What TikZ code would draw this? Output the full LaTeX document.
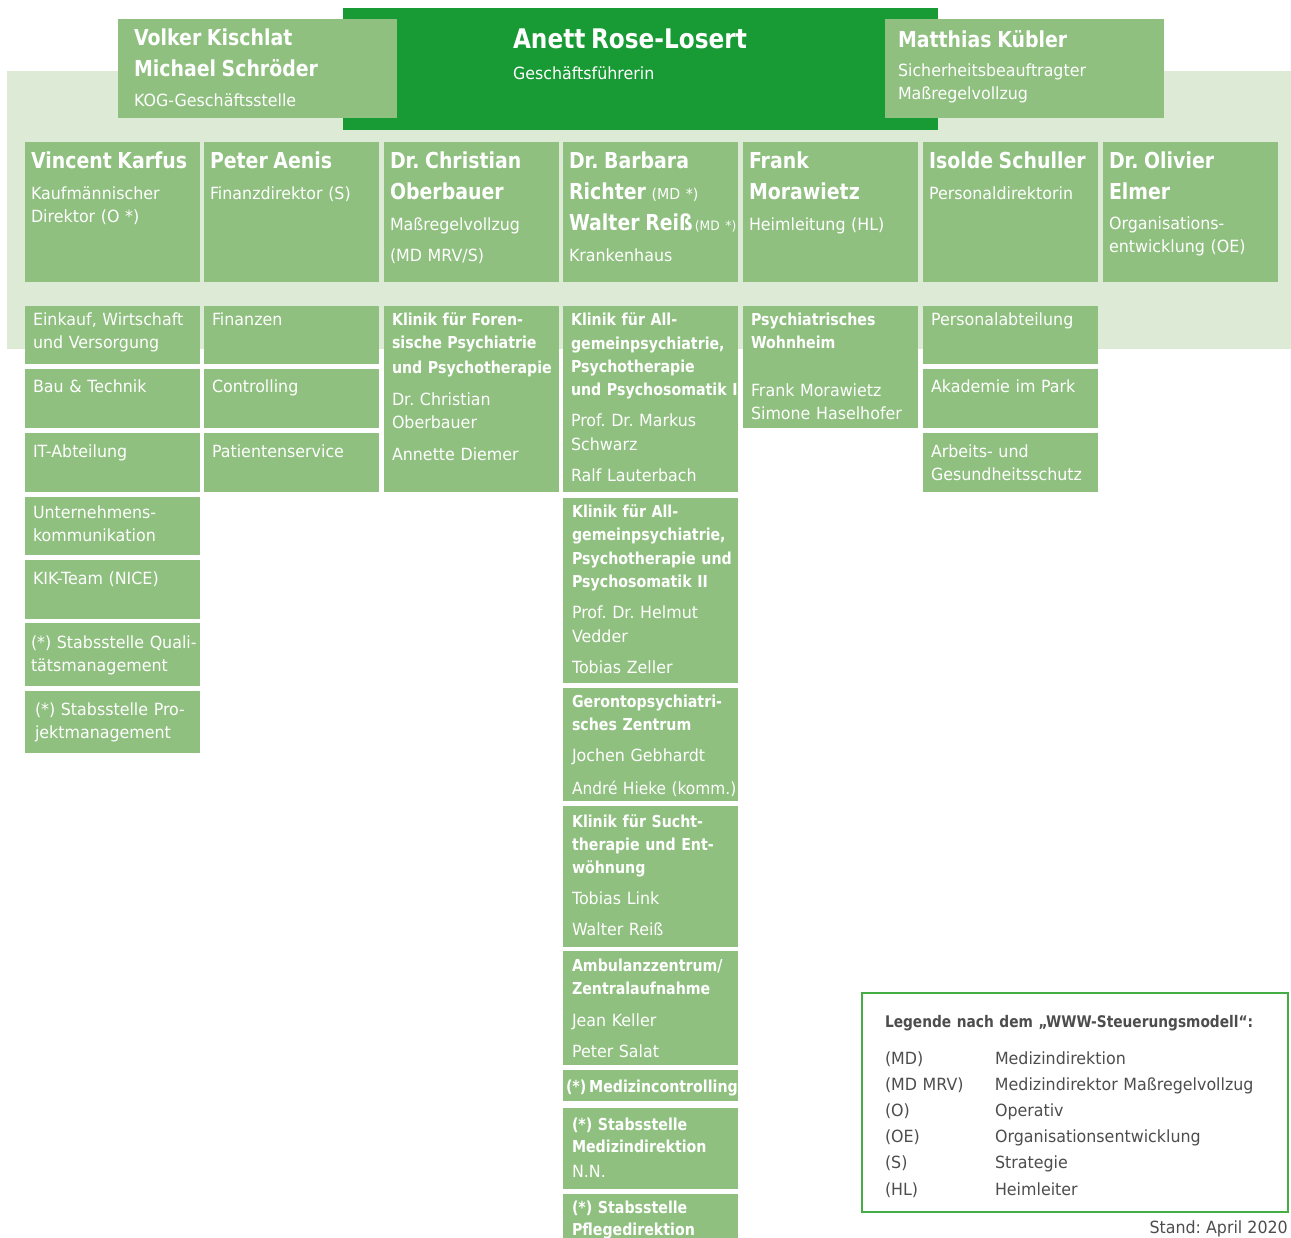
\documentclass[tikz,border=0pt]{standalone}
\usepackage{fontspec}
\usepackage{graphicx}
\setmainfont{DejaVu Sans}[FakeStretch=0.945]
\newfontfamily\bdf{DejaVu Sans}[FakeStretch=0.86]
\definecolor{dkg}{HTML}{189A35}
\definecolor{mdg}{HTML}{8FC07F}
\definecolor{ltg}{HTML}{DDEAD5}
\definecolor{lgb}{HTML}{45AD45}
\definecolor{gry}{HTML}{4D4D4D}
\frenchspacing
\newcommand\fr{\fontsize{16.8}{23}\selectfont}
\newcommand\nm[1]{{\fontsize{22}{23}\selectfont\bdf\bfseries #1}}
\newcommand\hd[1]{{\fontsize{16.5}{23}\selectfont\bdf\bfseries #1}}
\tikzset{
  cellbox/.style={fill=mdg, draw=none, anchor=north west, inner sep=0pt, outer sep=0pt},
  celltext/.style={anchor=north west, inner xsep=8pt, inner ysep=0pt, outer sep=0pt,
    text=white, align=left, text width=260pt, font=\fr\frenchspacing},
}
% [text opts]{name}{x}{y}{w}{h}{first baseline}{text}
\newcommand\cell[8][]{%
  \node[cellbox, minimum width=#5, minimum height=#6] (#2) at (#3,#4) {};
  \node[celltext, text height=#7, #1] (#2t) at (#2.north west) {#8};}
\begin{document}
\begin{tikzpicture}[x=1pt,y=-1pt]
\useasboundingbox (0,0) rectangle (1291,1238);
% light background band
\node[fill=ltg, anchor=north west, minimum width=1284, minimum height=278, inner sep=0pt] (bg) at (7,71) {};
% top level
\node[cellbox, fill=dkg, minimum width=595, minimum height=122] (gf) at (343,8) {};
\node[celltext, inner xsep=170pt, text height=41] (gft) at (gf.north west)
  {{\fontsize{27}{23}\selectfont\bdf\bfseries Anett Rose-Losert}\\[8pt]Geschäftsführerin};
\cell[inner xsep=16pt]{kog}{118}{19}{279}{99}{27}{\nm{Volker Kischlat}\\[8pt]\nm{Michael Schröder}\\[7pt]KOG-Geschäftsstelle}
\cell[inner xsep=13pt]{sib}{885}{19}{279}{99}{29}{\nm{Matthias Kübler}\\[6pt]Sicherheitsbeauftragter\\Maßregelvollzug}
% directors
\cell[inner xsep=6pt]{d1}{25}{142}{175}{140}{27}{\nm{Vincent Karfus}\\[8pt]Kaufmännischer\\Direktor (O *)}
\cell[inner xsep=6pt]{d2}{204}{142}{175}{140}{27}{\nm{Peter Aenis}\\[8pt]Finanzdirektor (S)}
\cell[inner xsep=6pt]{d3}{384}{142}{175}{140}{27}{\nm{Dr. Christian}\\[8pt]\nm{Oberbauer}\\[8pt]Maßregelvollzug\\[8pt](MD MRV/S)}
\cell[inner xsep=6pt]{d4}{563}{142}{175}{140}{27}{\nm{Dr. Barbara}\\[8pt]\nm{Richter} {\fontsize{15}{23}\selectfont(MD *)}\\[8pt]\nm{Walter Reiß}{\fontsize{13}{23}\selectfont\,(MD *)}\\[8pt]Krankenhaus}
\cell[inner xsep=6pt]{d5}{743}{142}{175}{140}{27}{\nm{Frank}\\[8pt]\nm{Morawietz}\\[8pt]Heimleitung (HL)}
\cell[inner xsep=6pt]{d6}{923}{142}{175}{140}{27}{\nm{Isolde Schuller}\\[8pt]Personaldirektorin}
\cell[inner xsep=6pt]{d7}{1103}{142}{175}{140}{27}{\nm{Dr. Olivier}\\[8pt]\nm{Elmer}\\[7pt]Organisations-\\entwicklung (OE)}
% column 1
\cell{e1}{25}{306}{175}{58.5}{20}{Einkauf, Wirtschaft\\und Versorgung}
\cell{e2}{25}{369.5}{175}{58.5}{23}{Bau \& Technik}
\cell{e3}{25}{433}{175}{58.5}{24}{IT-Abteilung}
\cell{e4}{25}{496.5}{175}{58.5}{22}{Unternehmens-\\kommunikation}
\cell{e5}{25}{560}{175}{58.5}{24}{KIK-Team (NICE)}
\cell[inner xsep=6pt]{e6}{25}{623}{175}{63}{25}{(*) Stabsstelle Quali-\\tätsmanagement}
\cell[inner xsep=10pt]{e7}{25}{691}{175}{62}{24}{(*) Stabsstelle Pro-\\jektmanagement}
% column 2
\cell{f1}{204}{306}{175}{58.5}{20}{Finanzen}
\cell{f2}{204}{369.5}{175}{58.5}{23}{Controlling}
\cell{f3}{204}{433}{175}{58.5}{24}{Patientenservice}
% column 3
\cell{k1}{384}{306}{175}{185.7}{20}{\hd{Klinik für Foren-}\\[-0.5pt]\hd{sische Psychiatrie}\\[2.5pt]\hd{und Psychotherapie}\\[9pt]Dr. Christian\\Oberbauer\\[9pt]Annette Diemer}
% column 4
\cell{m1}{563}{306}{175}{185.7}{20}{\hd{Klinik für All-}\\[0.3pt]\hd{gemeinpsychiatrie,}\\[0.3pt]\hd{Psychotherapie}\\[0.3pt]\hd{und Psychosomatik I}\\[8pt]Prof. Dr. Markus\\[0.3pt]Schwarz\\[8pt]Ralf Lauterbach}
\cell[inner xsep=9pt]{m2}{563}{498}{175}{184.7}{19.5}{\hd{Klinik für All-}\\[0.3pt]\hd{gemeinpsychiatrie,}\\[0.3pt]\hd{Psychotherapie und}\\[0.3pt]\hd{Psychosomatik II}\\[8.5pt]Prof. Dr. Helmut\\[0.3pt]Vedder\\[8pt]Tobias Zeller}
\cell[inner xsep=9pt]{m3}{563}{687.5}{175}{113.5}{20}{\hd{Gerontopsychiatri-}\\\hd{sches Zentrum}\\[8pt]Jochen Gebhardt\\[10pt]\scalebox{0.97}[1]{André Hieke (komm.)}}
\cell[inner xsep=9pt]{m4}{563}{805.5}{175}{141}{22}{\hd{Klinik für Sucht-}\\\hd{therapie und Ent-}\\\hd{wöhnung}\\[8pt]Tobias Link\\[8pt]Walter Reiß}
\cell[inner xsep=9pt]{m5}{563}{951}{175}{114}{20}{\hd{Ambulanzzentrum/}\\\hd{Zentralaufnahme}\\[9pt]Jean Keller\\[8pt]Peter Salat}
\cell[inner xsep=3pt]{m6}{563}{1070}{175}{30.5}{22}{\hd{(*)\,Medizincontrolling}}
\cell[inner xsep=9pt]{m7}{563}{1108}{175}{81}{22.5}{\hd{(*) Stabsstelle}\\[-1pt]\hd{Medizindirektion}\\[2pt]N.N.}
\cell[inner xsep=9pt]{m8}{563}{1194}{175}{60}{19.5}{\hd{(*) Stabsstelle}\\[-1pt]\hd{Pflegedirektion}}
% column 5
\cell{w1}{743}{306}{175}{122}{20}{\hd{Psychiatrisches}\\\hd{Wohnheim}\\[25pt]Frank Morawietz\\Simone Haselhofer}
% column 6
\cell{p1}{923}{306}{175}{58.5}{20}{Personalabteilung}
\cell{p2}{923}{369.5}{175}{58.5}{23}{Akademie im Park}
\cell{p3}{923}{433}{175}{58.5}{24}{Arbeits- und\\Gesundheitsschutz}
% legend
\node[cellbox, fill=white, draw=lgb, line width=1.2pt, minimum width=426, minimum height=219] (leg) at (862,993) {};
\node[celltext, text=gry, text width=400pt, inner xsep=23pt, text height=34] (legt) at (leg.north west)
  {{\fontsize{16}{23}\selectfont\bdf\bfseries Legende nach dem „WWW-Steuerungsmodell“:}\\[14pt]
   \makebox[110pt][l]{(MD)}Medizindirektion\\[3.2pt]
   \makebox[110pt][l]{(MD MRV)}Medizindirektor Maßregelvollzug\\[3.2pt]
   \makebox[110pt][l]{(O)}Operativ\\[3.2pt]
   \makebox[110pt][l]{(OE)}Organisationsentwicklung\\[3.2pt]
   \makebox[110pt][l]{(S)}Strategie\\[3.2pt]
   \makebox[110pt][l]{(HL)}Heimleiter};
\node[anchor=base east, text=gry, font=\fr, inner sep=0pt] (stand) at (1288,1233) {Stand: April 2020};
\end{tikzpicture}
\end{document}
